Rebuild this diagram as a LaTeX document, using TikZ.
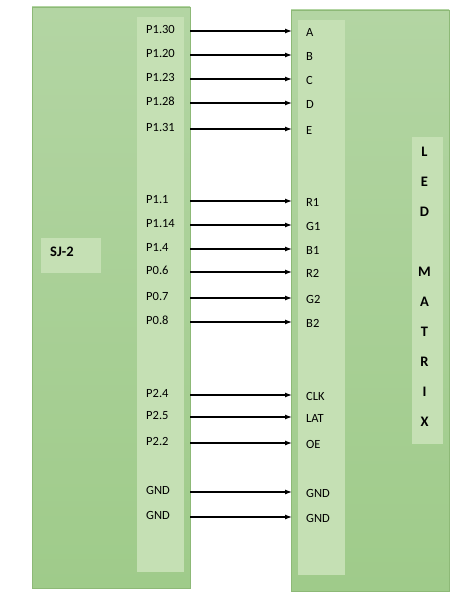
\documentclass[tikz,border=0pt]{standalone}
\usepackage{fontspec}
\setmainfont{Carlito}
\usetikzlibrary{arrows.meta}
\definecolor{boardtop}{HTML}{B3D5A3}
\definecolor{boardbot}{HTML}{9FCB8A}
\definecolor{boardline}{HTML}{8DB977}
\definecolor{stripfill}{HTML}{C5E0B4}
\begin{document}
\begin{tikzpicture}[x=1pt, y=-1pt,
	board/.style={rectangle, draw=boardline, top color=boardtop, bottom color=boardbot, inner sep=0pt},
	strip/.style={rectangle, fill=stripfill, inner sep=0pt},
	pin/.style={anchor=west, inner sep=0pt, font=\fontsize{12.5}{14}\selectfont},
	title/.style={inner sep=0pt, font=\fontsize{14.5}{16}\selectfont\bfseries},
	wire/.style={line width=1.2pt, -{Latex[length=7pt, width=5pt]}}]
	
	\useasboundingbox (0, 0) rectangle (470, 599);
	
	% boards
	\node (sj) at (111, 297.5) [board, minimum width=158pt, minimum height=581pt] {};
	\node (sjpins) at (160.5, 294.5) [strip, minimum width=47pt, minimum height=555pt] {};
	\node (sjtag) at (71, 255.5) [strip, minimum width=60pt, minimum height=35pt] {};
	\node (sjname) at (50, 252) [title, anchor=west] {SJ-2};
	
	\node (led) at (370, 300.5) [board, minimum width=158pt, minimum height=581pt] {};
	\node (ledpins) at (321.5, 297.5) [strip, minimum width=47pt, minimum height=555pt] {};
	\node (ledtag) at (427.5, 290.5) [strip, minimum width=31pt, minimum height=307pt] {};
	
	\foreach \k/\c in {0/L, 1/E, 2/D, 4/M, 5/A, 6/T, 7/R, 8/I, 9/X} {
		\node (t\k) at (424.5, 152+30*\k) [title] {\c};
	}
	
	% wires
	\foreach \i/\y/\a/\b in {1/31/P1.30/A, 2/55/P1.20/B, 3/79/P1.23/C, 4/103/P1.28/D, 5/129/P1.31/E,
		6/201/P1.1/R1, 7/225/P1.14/G1, 8/249/P1.4/B1, 9/272/P0.6/R2, 10/298/P0.7/G2, 11/322/P0.8/B2,
		12/395/P2.4/CLK, 13/417/P2.5/LAT, 14/443/P2.2/OE, 15/492/GND/GND, 16/517/GND/GND} {
		\node (p\i) at (146, \y-1.5) [pin] {\a};
		\node (q\i) at (306, \y+1) [pin] {\b};
		\coordinate (s\i) at (190, \y);
		\coordinate (e\i) at (292, \y);
		\draw [wire] (s\i) -- (e\i);
	}
	
\end{tikzpicture}
\end{document}
